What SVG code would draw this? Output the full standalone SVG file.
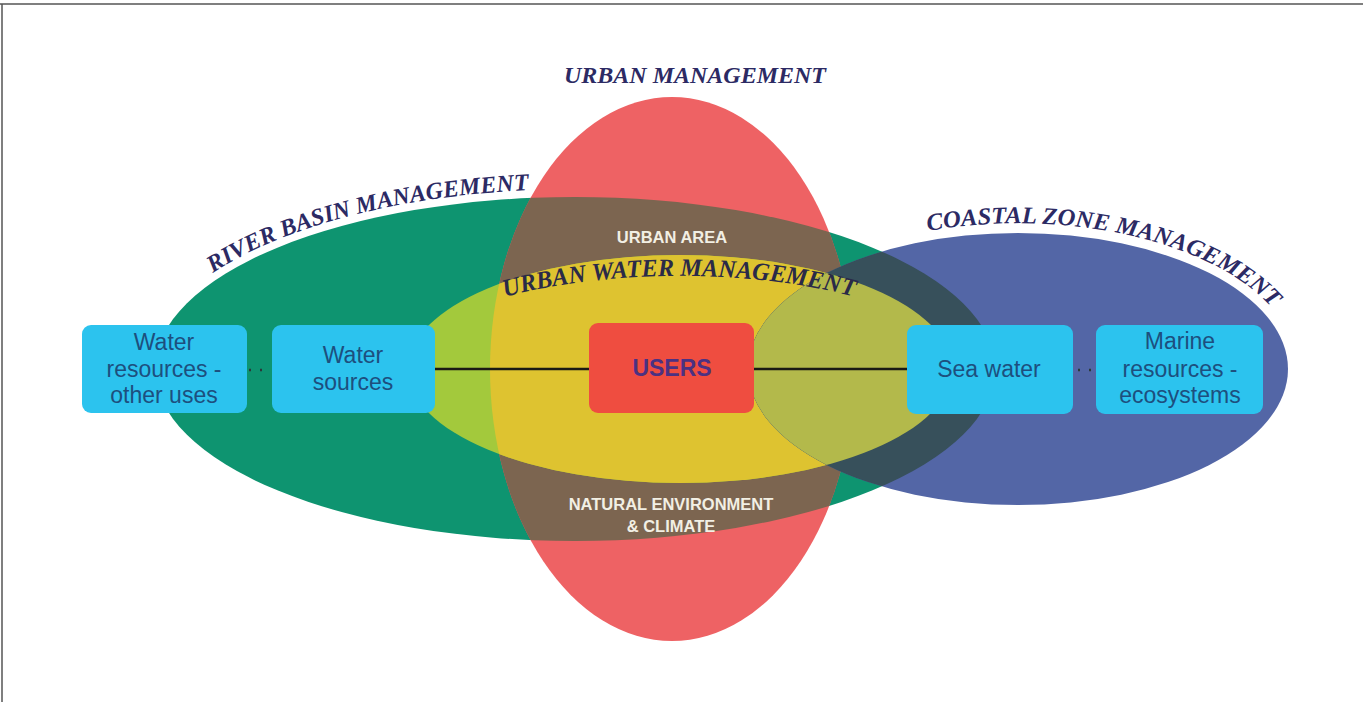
<svg xmlns="http://www.w3.org/2000/svg" width="1363" height="702" viewBox="0 0 1363 702">
<defs>
<style>
.title{font-family:"Liberation Serif","Times New Roman",serif;font-weight:bold;font-style:italic;font-size:24px;fill:#2c2a64;}
.area{font-family:"Liberation Sans",Arial,sans-serif;font-weight:bold;font-size:16.5px;fill:#f2efe4;text-anchor:middle;}
.box{fill:#2cc3ee;}
.lbl{font-family:"Liberation Sans",Arial,sans-serif;font-size:23px;fill:#1d4f7e;text-anchor:middle;}
.users{font-family:"Liberation Sans",Arial,sans-serif;font-size:23px;font-weight:bold;fill:#4b3182;text-anchor:middle;}
.link{stroke:#1a1a14;stroke-width:2.5;fill:none;}
.dots{stroke:#2a3a3a;stroke-width:2.5;stroke-dasharray:2 9;fill:none;}
</style>
<clipPath id="cGreen"><ellipse cx="575" cy="369" rx="420" ry="172"/></clipPath>
<clipPath id="cRed"><ellipse cx="672" cy="369" rx="182" ry="272"/></clipPath>
<clipPath id="cBlue"><ellipse cx="1018" cy="369" rx="270" ry="136"/></clipPath>
<path id="pRiver" d="M 213,273 A 428,180 0 0 1 1003,369"/>
<path id="pCoast" d="M 928,231 A 280,146 0 0 1 1298,369"/>
<path id="pUWM" d="M 505,297 A 276,93 0 0 1 956,369"/>
</defs>
<rect x="0" y="0" width="1363" height="702" fill="#ffffff"/>
<line x1="0" y1="4" x2="1363" y2="4" stroke="#555" stroke-width="1.5"/>
<line x1="2" y1="4" x2="2" y2="702" stroke="#555" stroke-width="1.5"/>

<g id="river-basin">
<ellipse cx="575" cy="369" rx="420" ry="172" fill="#0e9470"/>
</g>
<g id="urban-management">
<ellipse cx="672" cy="369" rx="182" ry="272" fill="#ee6264"/>
<g clip-path="url(#cGreen)"><ellipse cx="672" cy="369" rx="182" ry="272" fill="#7c6550"/></g>
</g>
<g id="urban-water-management">
<ellipse cx="680" cy="369" rx="272" ry="114" fill="#a3c93c"/>
<g clip-path="url(#cRed)"><ellipse cx="680" cy="369" rx="272" ry="114" fill="#dec330"/></g>
</g>
<g id="coastal-zone">
<ellipse cx="1018" cy="369" rx="270" ry="136" fill="#5366a6"/>
<g clip-path="url(#cGreen)"><ellipse cx="1018" cy="369" rx="270" ry="136" fill="#37505b"/></g>
<g clip-path="url(#cBlue)"><ellipse cx="680" cy="369" rx="272" ry="114" fill="#b3b94b"/></g>
</g>

<g id="titles">
<text class="title" x="695" y="83" text-anchor="middle" textLength="262" lengthAdjust="spacingAndGlyphs">URBAN MANAGEMENT</text>
<text class="title"><textPath href="#pRiver" textLength="330" lengthAdjust="spacingAndGlyphs">RIVER BASIN MANAGEMENT</textPath></text>
<text class="title"><textPath href="#pCoast" textLength="365" lengthAdjust="spacingAndGlyphs">COASTAL ZONE MANAGEMENT</textPath></text>
<text class="title" style="font-size:25px;fill:#2a2a48"><textPath href="#pUWM" textLength="352" lengthAdjust="spacingAndGlyphs">URBAN WATER MANAGEMENT</textPath></text>
<text class="area" x="672" y="243">URBAN AREA</text>
<text class="area" x="671" y="510">NATURAL ENVIRONMENT</text>
<text class="area" x="671" y="532">&amp; CLIMATE</text>
</g>

<g id="connectors">
<line class="dots" x1="249" y1="370" x2="270" y2="370"/>
<line class="link" x1="435" y1="369" x2="590" y2="369"/>
<line class="link" x1="754" y1="369" x2="908" y2="369"/>
<line class="dots" x1="1078" y1="370" x2="1096" y2="370"/>
</g>

<g id="water-resources">
<rect class="box" x="82" y="325" width="165" height="88" rx="9"/>
<text class="lbl" x="164" y="350">Water</text>
<text class="lbl" x="164" y="377">resources -</text>
<text class="lbl" x="164" y="403">other uses</text>
</g>
<g id="water-sources">
<rect class="box" x="272" y="325" width="163" height="88" rx="9"/>
<text class="lbl" x="353" y="363">Water</text>
<text class="lbl" x="353" y="390">sources</text>
</g>
<g id="users">
<rect x="589" y="323" width="165" height="90" rx="9" fill="#ef4d40"/>
<text class="users" x="672" y="376">USERS</text>
</g>
<g id="sea-water">
<rect class="box" x="907" y="325" width="166" height="89" rx="9"/>
<text class="lbl" x="989" y="377">Sea water</text>
</g>
<g id="marine-resources">
<rect class="box" x="1096" y="325" width="167" height="89" rx="9"/>
<text class="lbl" x="1180" y="349">Marine</text>
<text class="lbl" x="1180" y="377">resources -</text>
<text class="lbl" x="1180" y="403">ecosystems</text>
</g>
</svg>
